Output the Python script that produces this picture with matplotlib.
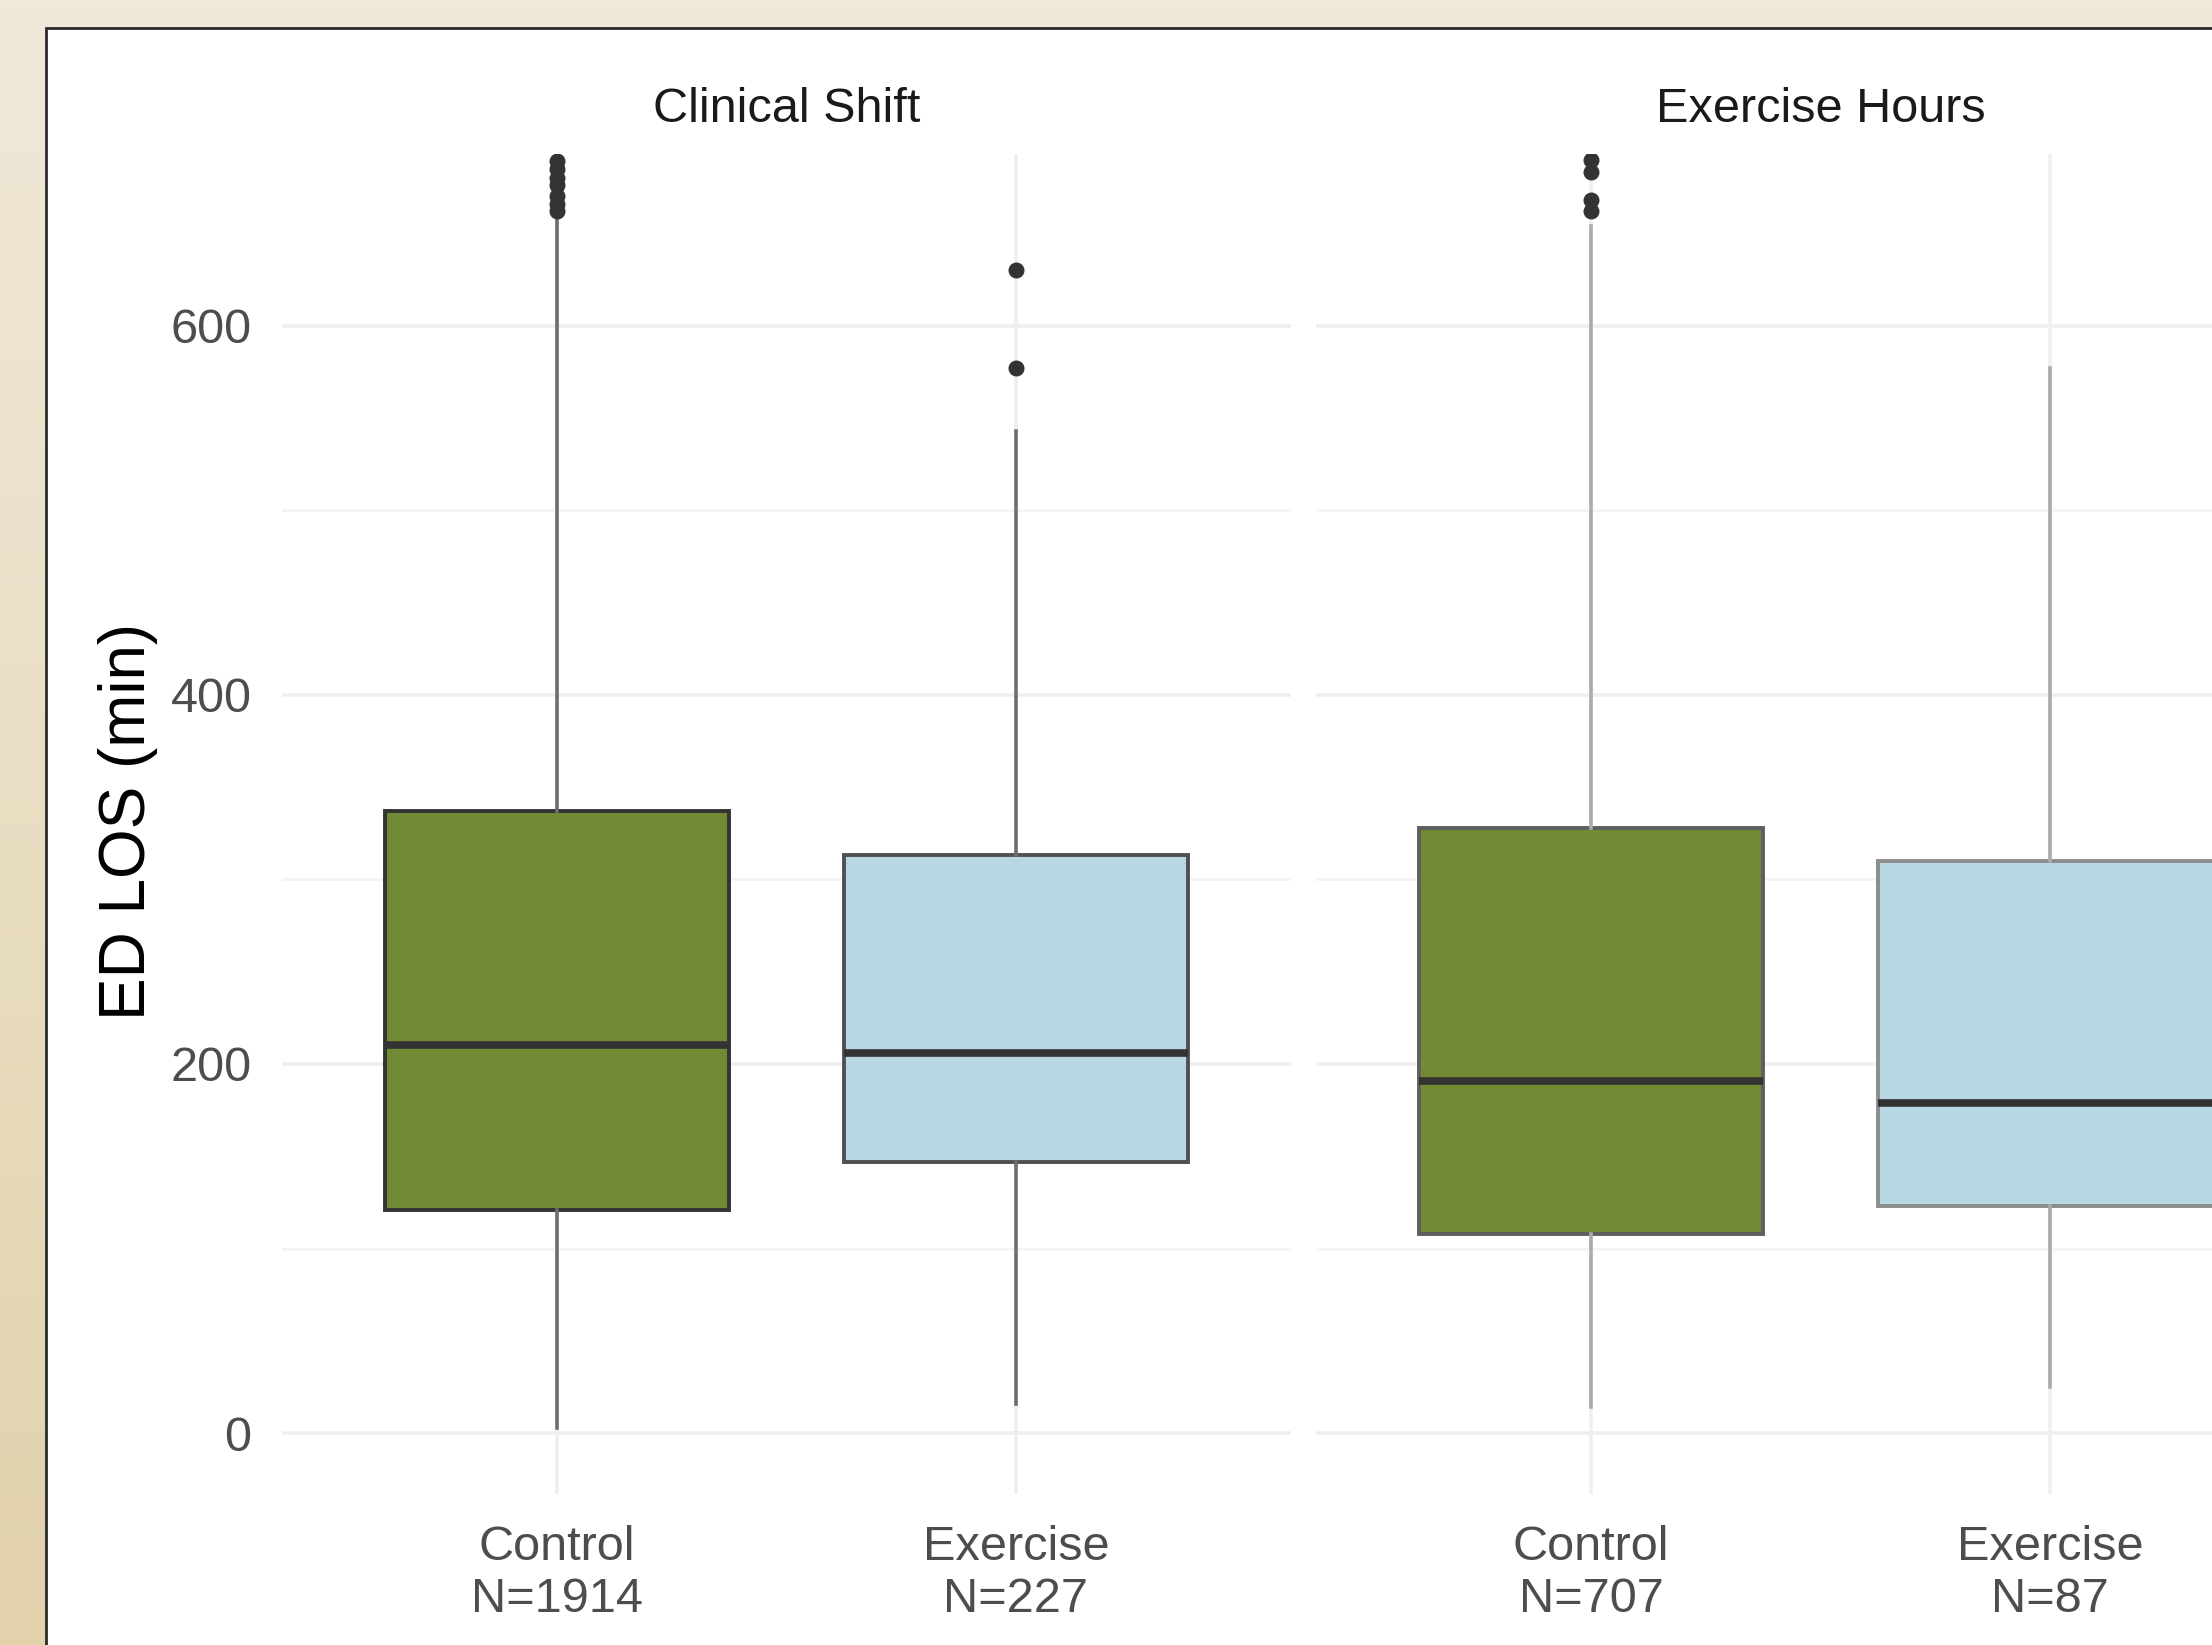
import matplotlib
matplotlib.use("Agg")
import matplotlib.pyplot as plt
import matplotlib.patches as mpatches
import numpy as np

plt.rcParams['font.family'] = ['Liberation Sans', 'DejaVu Sans']

# data (ED length of stay, minutes)
facets = ["Clinical Shift", "Exercise Hours"]
groups = ["Control", "Exercise"]
n_counts = [[1914, 227], [707, 87]]

whislo = [[3, 16], [14, 25]]
q1 = [[121, 147], [108, 123]]
med = [[210, 206], [191, 179]]
q3 = [[337, 313], [328, 310]]
whishi = [[658, 543], [654, 577]]
fliers = [
    [[662, 666, 670, 676, 680, 685, 689], [577, 630]],
    [[662, 668, 683, 690], []],
]

ylim = (-33, 693)
box_colors = ["#738A35", "#B7D7E3"]
edge_colors = [["#333333", "#505050"], ["#5E5E5E", "#8C8C8C"]]
whisker_colors = ["#6E6E6E", "#ABABAB"]

W, H = 2212, 1645
fig = plt.figure(figsize=(W / 100, H / 100), dpi=100)

# slide background: beige gradient + white card
bg = fig.add_axes([0, 0, 1, 1], zorder=-10)
grad = np.linspace(0, 1, 256).reshape(-1, 1)
top = np.array([240, 233, 217]) / 255
bot = np.array([226, 210, 172]) / 255
img = top + (bot - top) * grad[:, :, None]
bg.imshow(img, aspect='auto', extent=[0, 1, 0, 1])
bg.add_patch(mpatches.Rectangle((46 / W, -0.05), 1.1, 1 - 28 / H + 0.05,
                                facecolor='white', edgecolor='#2b2b2b',
                                linewidth=2, clip_on=False))
bg.set_xlim(0, 1)
bg.set_ylim(0, 1)
bg.axis('off')

panel_left = [282 / W, 1316 / W]
panel_w = 1009 / W
panel_bottom = 1 - 1494 / H
panel_h = (1494 - 154) / H

for i, facet in enumerate(facets):
    ax = fig.add_axes([panel_left[i], panel_bottom, panel_w, panel_h])
    ax.set_facecolor('none')
    stats = []
    for j in range(2):
        stats.append(dict(whislo=whislo[i][j], q1=q1[i][j], med=med[i][j],
                          q3=q3[i][j], whishi=whishi[i][j], fliers=fliers[i][j]))
    bp = ax.bxp(stats, positions=[1, 2], widths=0.75, patch_artist=True,
                showcaps=False, manage_ticks=False,
                medianprops=dict(color='#333333', linewidth=5.5, solid_capstyle='butt'),
                whiskerprops=dict(color=whisker_colors[i], linewidth=2.6),
                flierprops=dict(marker='o', markerfacecolor='#333333',
                                markeredgecolor='#333333', markersize=10.5))
    for j, patch in enumerate(bp['boxes']):
        patch.set_facecolor(box_colors[j])
        patch.set_edgecolor(edge_colors[i][j])
        patch.set_linewidth(2.8)

    ax.set_xlim(0.4, 2.6)
    ax.set_ylim(*ylim)
    ax.set_yticks([0, 200, 400, 600])
    ax.set_yticks([100, 300, 500], minor=True)
    ax.set_xticks([1, 2])
    ax.set_xticklabels([f"{g}\nN={n}" for g, n in zip(groups, n_counts[i])],
                       fontsize=35, color='#4D4D4D', linespacing=1.2)
    ax.grid(which='major', color='#EFEFEF', linewidth=2.6)
    ax.grid(which='minor', axis='y', color='#F4F4F4', linewidth=2.0)
    ax.set_axisbelow(True)
    ax.tick_params(axis='both', which='both', length=0)
    ax.tick_params(axis='x', pad=22)
    ax.tick_params(axis='y', pad=22, labelsize=35, labelcolor='#4D4D4D')
    if i == 1:
        ax.set_yticklabels([])
    for s in ax.spines.values():
        s.set_visible(False)
    cx = panel_left[i] + panel_w / 2
    fig.text(cx, 1 - 110 / H, facet, ha='center', va='center',
             fontsize=35, color='#1A1A1A')

fig.text(128 / W, 1 - 821 / H, "ED LOS (min)", rotation=90, ha='center',
         va='center', fontsize=46, color='black')

fig.savefig("out.png", dpi=100)
